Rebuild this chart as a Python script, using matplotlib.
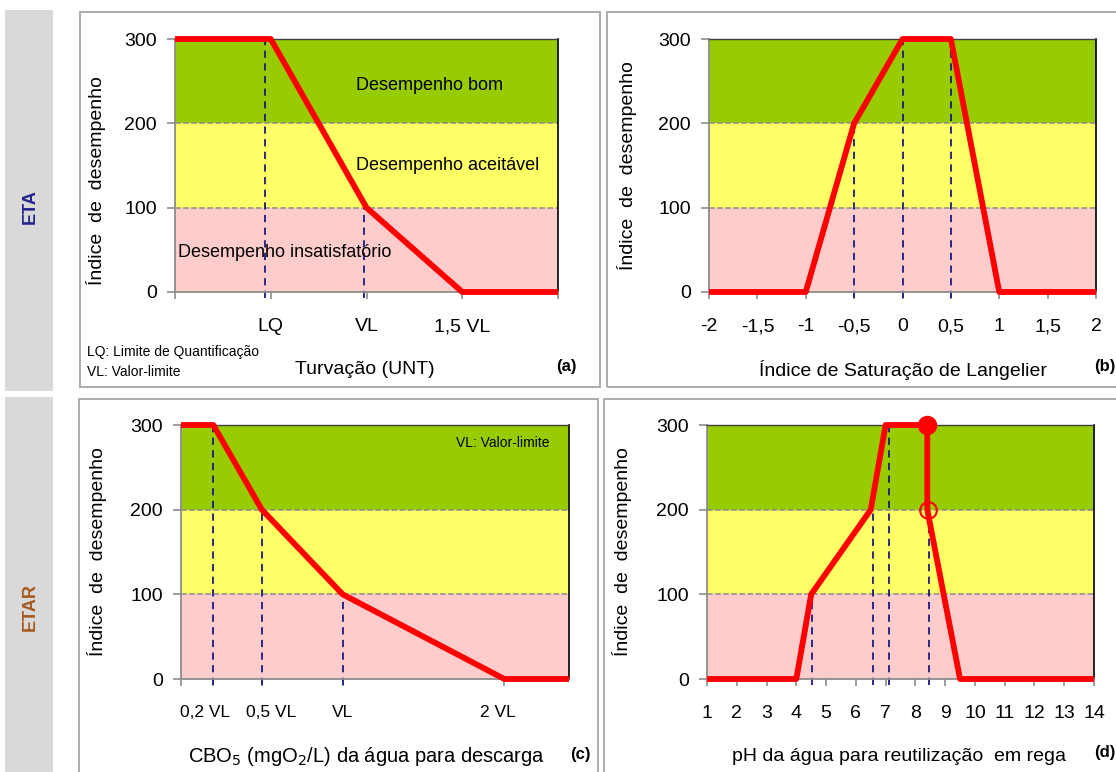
import matplotlib
matplotlib.use("Agg")
import matplotlib.pyplot as plt
from matplotlib.patches import Rectangle
from matplotlib.transforms import ScaledTranslation

plt.rcParams['font.family'] = ['Liberation Sans', 'DejaVu Sans']

W, H = 1116, 772

# ---- dados ----
# (a) turvação
turv_x = [0, 1, 2, 3, 4]
turv_y = [300, 300, 100, 0, 0]
turv_ticks = [0, 1, 2, 3, 4]
turv_labels = ['', 'LQ', 'VL', '1,5 VL', '']
turv_guia_x = [0.94, 1.97]
turv_guia_top = [300, 100]

# (b) índice de Langelier
lsi_x = [-2, -1, -0.5, 0, 0.5, 1, 2]
lsi_y = [0, 0, 200, 300, 300, 0, 0]
lsi_ticks = [-2, -1.5, -1, -0.5, 0, 0.5, 1, 1.5, 2]
lsi_labels = ['-2', '-1,5', '-1', '-0,5', '0', '0,5', '1', '1,5', '2']
lsi_guia_x = [-0.5, 0, 0.5]
lsi_guia_top = [200, 300, 300]

# (c) CBO5
cbo_x = [0, 0.2, 0.5, 1, 2, 2.4]
cbo_y = [300, 300, 200, 100, 0, 0]
cbo_ticks = [0, 0.2, 0.5, 1, 2]
cbo_labels = ['', '0,2 VL', '0,5 VL', 'VL', '2 VL']
cbo_guia_x = [0.2, 0.5, 1.0]
cbo_guia_top = [300, 200, 100]

# (d) pH
ph_x = [1, 4, 4.5, 6.5, 7, 8.4, 8.4, 9.5, 14]
ph_y = [0, 0, 100, 200, 300, 300, 200, 0, 0]
ph_ticks = list(range(1, 15))
ph_guia_x = [4.52, 6.58, 7.12, 8.45]
ph_guia_top = [100, 200, 300, 300]
ph_cheio = (8.4, 300)
ph_vazio = (8.42, 200)

indice_ticks = [0, 100, 200, 300]

VERDE = '#99CC00'
AMARELO = '#FFFF66'
ROSA = '#FFCCCC'


def caixa(x0, y0, x1, y1):
    return [x0 / W, 1 - y1 / H, (x1 - x0) / W, (y1 - y0) / H]


fig = plt.figure(figsize=(W / 100, H / 100), dpi=100)

# faixas cinzentas laterais e molduras
for (x0, y0, x1, y1) in [(5, 10, 53, 391), (5, 397, 53, 780)]:
    fig.patches.append(Rectangle((x0 / W, 1 - y1 / H), (x1 - x0) / W, (y1 - y0) / H,
                                 transform=fig.transFigure, facecolor='#D9D9D9',
                                 edgecolor='none', zorder=0))
for (x0, y0, x1, y1) in [(80, 12, 600, 387), (607, 12, 1125, 387),
                         (79, 399, 598, 780), (604, 399, 1125, 780)]:
    fig.patches.append(Rectangle((x0 / W, 1 - y1 / H), (x1 - x0) / W, (y1 - y0) / H,
                                 transform=fig.transFigure, facecolor='none',
                                 edgecolor='#A6A6A6', linewidth=1.3, zorder=0))

fig.text(30 / W, 1 - 207 / H, 'ETA', rotation=90, ha='center', va='center',
         fontsize=13, fontweight='bold', color='#23238E')
fig.text(30 / W, 1 - 607 / H, 'ETAR', rotation=90, ha='center', va='center',
         fontsize=13, fontweight='bold', color='#A65A1F')


def painel(box, xs, ys, xlim, ticks, labels, gx, gtop, xlabel, lx, ly, yx, yy, letra, lpos):
    ax = fig.add_axes(caixa(*box))
    ax.axhspan(0, 100, color=ROSA, zorder=0, lw=0)
    ax.axhspan(100, 200, color=AMARELO, zorder=0, lw=0)
    ax.axhspan(200, 300, color=VERDE, zorder=0, lw=0)
    for yv in [100, 200]:
        ax.axhline(yv, color='#8C8C8C', ls='--', lw=1.1, zorder=1)
    ax.vlines(gx, -7, gtop, colors='#1A1A80', linestyles=(0, (4, 3)), lw=1.3,
              zorder=2, clip_on=False)
    ax.plot(xs, ys, color='#FF0000', lw=4.2, zorder=3, clip_on=False,
            solid_capstyle='butt')
    ax.set_xlim(*xlim)
    ax.set_ylim(0, 300)
    ax.set_yticks(indice_ticks)
    ax.set_xticks(ticks)
    ax.set_xticklabels(labels)
    ax.tick_params(axis='y', direction='out', length=6, width=1.2, color='#8C8C8C',
                   labelsize=14, pad=7)
    ax.tick_params(axis='x', direction='out', length=5, width=1.2, color='#8C8C8C',
                   labelsize=14, pad=14)
    for s in ['left', 'bottom']:
        ax.spines[s].set_color('#8C8C8C')
        ax.spines[s].set_linewidth(1.3)
    ax.spines['right'].set_color('black')
    ax.spines['right'].set_linewidth(1.2)
    ax.spines['top'].set_color('#404040')
    ax.spines['top'].set_linewidth(1.0)
    ax.set_xlabel(xlabel, fontsize=14, va='center')
    ax.xaxis.set_label_coords(lx, ly)
    ax.set_ylabel('Índice  de  desempenho', fontsize=14, va='center')
    ax.yaxis.set_label_coords(yx, yy)
    fig.text(lpos[0] / W, 1 - lpos[1] / H, letra, fontsize=12, fontweight='bold',
             ha='left', va='center')
    return ax


ax_a = painel((175, 39, 558, 292), turv_x, turv_y, (0, 4), turv_ticks, turv_labels,
              turv_guia_x, turv_guia_top, 'Turvação (UNT)', 0.496, -0.308, -0.206, 0.44,
              '(a)', (556, 367))
ax_a.text(1.89, 245, 'Desempenho bom', fontsize=13, va='center', ha='left', zorder=4)
ax_a.text(1.89, 150, 'Desempenho aceitável', fontsize=13, va='center', ha='left', zorder=4)
ax_a.text(0.03, 47, 'Desempenho insatisfatório', fontsize=13, va='center', ha='left', zorder=4)
fig.text(87 / W, 1 - 352 / H, 'LQ: Limite de Quantificação', fontsize=10, va='center')
fig.text(87 / W, 1 - 372 / H, 'VL: Valor-limite', fontsize=10, va='center')

ax_b = painel((709, 39, 1096, 292), lsi_x, lsi_y, (-2, 2), lsi_ticks, lsi_labels,
              lsi_guia_x, lsi_guia_top, 'Índice de Saturação de Langelier', 0.501, -0.308,
              -0.212, 0.5, '(b)', (1094, 367))

ax_c = painel((181, 425, 569, 679), cbo_x, cbo_y, (0, 2.4), cbo_ticks, cbo_labels,
              cbo_guia_x, cbo_guia_top, 'CBO$_5$ (mgO$_2$/L) da água para descarga',
              0.479, -0.307, -0.216, 0.5, '(c)', (570, 755))
ax_c.xaxis.label.set_fontsize(14.5)
# deslocar ligeiramente os rótulos, como no original
desloc = [0, -6, 7, 0, -5]
for lbl, dx in zip(ax_c.get_xticklabels(), desloc):
    lbl.set_fontsize(12.5)
    lbl.set_transform(lbl.get_transform() + ScaledTranslation(dx / 72, 0, fig.dpi_scale_trans))
ax_c.text(2.28, 279, 'VL: Valor-limite', fontsize=10, ha='right', va='center', zorder=4)

ax_d = painel((707, 425, 1094, 679), ph_x, ph_y, (1, 14), ph_ticks,
              [str(t) for t in ph_ticks], ph_guia_x, ph_guia_top,
              'pH da água para reutilização  em rega', 0.496, -0.307, -0.22, 0.5,
              '(d)', (1094, 752))
ax_d.plot([ph_cheio[0]], [ph_cheio[1]], 'o', color='#FF0000', ms=13, zorder=5,
          clip_on=False)
ax_d.plot([ph_vazio[0]], [ph_vazio[1]], 'o', mfc='none', mec='#FF0000', mew=1.5,
          ms=12, zorder=5)

fig.savefig('out.png', dpi=100)
